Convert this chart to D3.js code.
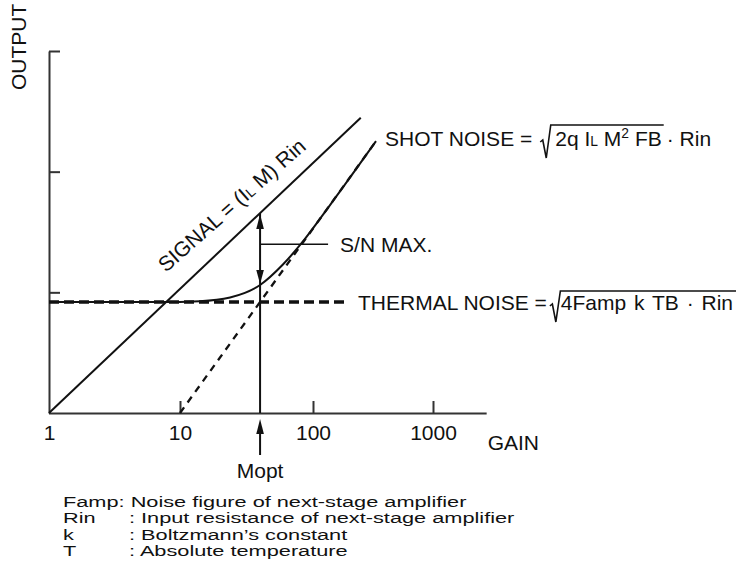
<!DOCTYPE html>
<html>
<head>
<meta charset="utf-8">
<script src="https://cdn.jsdelivr.net/npm/d3@7"></script>
<style>
  html, body { margin: 0; padding: 0; background: #fff; }
  svg { display: block; }
  text { font-family: "Liberation Sans", Arial, Helvetica, sans-serif; fill: #111; }
</style>
</head>
<body>
<svg id="chart" width="739" height="579"></svg>
<script>
// ---- data -------------------------------------------------------------
// gain axis (logarithmic)
const gainTicks = [1, 10, 100, 1000];
const gainTickLabels = ["1", "10", "100", "1000"];
const gainMax = 2800;

// output axis (logarithmic, unlabeled ticks)
const outputTicks = [10, 100, 1000];

// signal = (IL·M)·Rin
const signalGain = [1, 250];
const signalOut  = [1, 280];

// thermal noise floor
const thermalGain = [1, 190];
const thermalOut  = [8.3, 8.3];

// shot noise asymptote
const shotGain = [10, 335];
const shotOut  = [1, 179];

// total noise
const noiseGain = [1, 7, 14.1, 23.8, 40, 59.4, 80, 138.6, 335];
const noiseOut  = [8.3, 8.3, 8.45, 9.07, 11.5, 17.0, 24.7, 52.9, 179];

// optimum gain and S/N marker level
const mopt = 40;
const snLevel = 25;

// symbol legend
const legendKeys  = ["Famp", "Rin", "k", "T"];
const legendTexts = [
  "Noise figure of next-stage amplifier",
  "Input resistance of next-stage amplifier",
  "Boltzmann\u2019s constant",
  "Absolute temperature"
];

// ---- setup ------------------------------------------------------------
const svg = d3.select("#chart");
svg.append("rect").attr("width", 739).attr("height", 579).attr("fill", "#fff");

const x = d3.scaleLog().domain(gainTicks).range([49, 180, 313, 433]);
const y = d3.scaleLog().domain([1, 1000]).range([413, 51]);

const INK = "#111";
const AXIS = "#333";
const LABEL = 21;

// ---- axes -------------------------------------------------------------
const gx = svg.append("g")
  .attr("transform", `translate(0,${y(1)})`)
  .call(d3.axisBottom(x)
    .tickValues(gainTicks)
    .tickFormat((d, i) => gainTickLabels[i])
    .tickSizeInner(-12)
    .tickSizeOuter(0)
    .tickPadding(12));
gx.select(".domain").remove();
gx.selectAll(".tick").filter(d => d === 1).select("line").remove();
gx.selectAll(".tick line").attr("stroke", AXIS).attr("stroke-width", 2);
gx.selectAll(".tick text").attr("font-size", LABEL).attr("fill", INK);
gx.append("line")
  .attr("x1", x(1)).attr("x2", x(gainMax))
  .attr("y1", 0.5).attr("y2", 0.5)
  .attr("stroke", AXIS).attr("stroke-width", 2);

const gy = svg.append("g")
  .attr("transform", `translate(${x(1)},0)`)
  .call(d3.axisLeft(y)
    .tickValues(outputTicks)
    .tickFormat("")
    .tickSizeInner(-11)
    .tickSizeOuter(0));
gy.select(".domain").attr("stroke", AXIS).attr("stroke-width", 2);
gy.selectAll(".tick line").attr("stroke", AXIS).attr("stroke-width", 2);

svg.append("text")
  .attr("transform", `translate(26,90) rotate(-90)`)
  .attr("font-size", LABEL)
  .text("OUTPUT");

svg.append("text")
  .attr("x", x(gainMax) + 1).attr("y", 450)
  .attr("font-size", LABEL)
  .text("GAIN");

// ---- curves -----------------------------------------------------------
const pts = (gs, os) => gs.map((g, i) => [x(g), y(os[i])]);
const straight = d3.line();
const smooth = d3.line().curve(d3.curveMonotoneX);

const signalPts = pts(signalGain, signalOut);
const noisePts = pts(noiseGain, noiseOut);

svg.append("path")
  .attr("d", smooth(noisePts))
  .attr("fill", "none").attr("stroke", INK).attr("stroke-width", 2);

svg.append("path")
  .attr("d", straight(pts(thermalGain, thermalOut)))
  .attr("fill", "none").attr("stroke", INK).attr("stroke-width", 3.5)
  .attr("stroke-dasharray", "10,5");

svg.append("path")
  .attr("d", straight(pts(shotGain, shotOut)))
  .attr("fill", "none").attr("stroke", INK).attr("stroke-width", 2.3)
  .attr("stroke-dasharray", "7,6");

svg.append("path")
  .attr("d", straight(signalPts))
  .attr("fill", "none").attr("stroke", INK).attr("stroke-width", 2);

// ---- optimum-gain marker ---------------------------------------------
function pixelYAt(points, px) {
  for (let i = 0; i < points.length - 1; i++) {
    const [x0, y0] = points[i], [x1, y1] = points[i + 1];
    if (px >= x0 && px <= x1) return y0 + (y1 - y0) * (px - x0) / (x1 - x0);
  }
  return points[points.length - 1][1];
}
const mx = x(mopt);
const sigY = pixelYAt(signalPts, mx);
const noiY = y(noiseOut[noiseGain.indexOf(mopt)]);

function arrowHead(tipX, tipY, dir, len, half) {
  // dir = -1 points up, +1 points down
  return straight([[tipX, tipY], [tipX - half, tipY - dir * len], [tipX + half, tipY - dir * len]]) + "Z";
}

svg.append("line")
  .attr("x1", mx).attr("x2", mx).attr("y1", sigY).attr("y2", y(1))
  .attr("stroke", INK).attr("stroke-width", 2);
svg.append("path").attr("d", arrowHead(mx, sigY + 1, -1, 15, 3.8)).attr("fill", INK);
svg.append("path").attr("d", arrowHead(mx, noiY - 1, 1, 14, 3.8)).attr("fill", INK);

const snY = y(snLevel);
svg.append("line")
  .attr("x1", mx).attr("x2", mx + 68).attr("y1", snY).attr("y2", snY)
  .attr("stroke", INK).attr("stroke-width", 1.6);
svg.append("text")
  .attr("x", mx + 80).attr("y", snY + 7.5)
  .attr("font-size", LABEL)
  .text("S/N MAX.");

// Mopt pointer under the gain axis
svg.append("line")
  .attr("x1", mx).attr("x2", mx).attr("y1", 432).attr("y2", 455)
  .attr("stroke", INK).attr("stroke-width", 2);
svg.append("path").attr("d", arrowHead(mx, 419, -1, 15, 3.8)).attr("fill", INK);
svg.append("text")
  .attr("x", mx).attr("y", 478)
  .attr("text-anchor", "middle")
  .attr("font-size", LABEL)
  .text("Mopt");

// ---- formula labels ---------------------------------------------------
function rich(parent, x0, y0, parts, size, extra) {
  const t = parent.append("text").attr("x", x0).attr("y", y0).attr("font-size", size);
  if (extra) extra(t);
  let shift = 0;
  parts.forEach(p => {
    const s = t.append("tspan").text(p.t);
    const want = p.sup ? -8 : 0;
    if (want !== shift) { s.attr("dy", want - shift); shift = want; }
    if (p.small || p.sup) s.attr("font-size", size * 0.66);
  });
  return t;
}

function radical(parent, x0, base, top, overEnd) {
  const p = d3.path();
  p.moveTo(x0, base - 4);
  p.lineTo(x0 + 2.5, base - 6);
  p.lineTo(x0 + 6, base + 12);
  p.lineTo(x0 + 10.5, top);
  p.lineTo(overEnd, top);
  parent.append("path").attr("d", p.toString())
    .attr("fill", "none").attr("stroke", INK).attr("stroke-width", 1.6)
    .attr("stroke-linejoin", "miter");
}

// SHOT NOISE = sqrt(2q IL M^2 F B) · Rin
{
  const g = svg.append("g");
  const base = 146;
  const a = rich(g, 385, base, [{ t: "SHOT NOISE =" }], LABEL);
  const ax = 385 + a.node().getComputedTextLength() + 8;
  const rx = ax + 15;
  const b = rich(g, rx, base, [
    { t: "2q I" }, { t: "L", small: true }, { t: " M" }, { t: "2", sup: true }, { t: " FB" }
  ], LABEL);
  const bEnd = rx + b.node().getComputedTextLength() + 2;
  radical(g, ax, base, base - 21, bEnd);
  rich(g, bEnd + 3, base, [{ t: "\u00B7 Rin" }], LABEL);
}

// THERMAL NOISE = sqrt(4 Famp k T B · Rin)
{
  const g = svg.append("g");
  const base = 310;
  const a = rich(g, 358, base, [{ t: "THERMAL NOISE =" }], LABEL);
  const ax = 358 + a.node().getComputedTextLength() + 3;
  const rx = ax + 11;
  const b = rich(g, rx, base, [{ t: "4Famp k TB \u00B7 Rin" }], LABEL,
    t => t.attr("word-spacing", 2));
  const bEnd = rx + b.node().getComputedTextLength() + 3;
  radical(g, ax, base, base - 19, bEnd);
}

// SIGNAL = (IL M) Rin, written along the signal line
{
  const [p0, p1] = signalPts;
  const ang = Math.atan2(p1[1] - p0[1], p1[0] - p0[0]) * 180 / Math.PI + 2;
  rich(svg, 0, 0, [
    { t: "SIGNAL = (I" }, { t: "L", small: true }, { t: " M) Rin" }
  ], LABEL, t => t.attr("transform", `translate(166,273) rotate(${ang})`));
}

// ---- symbol legend ----------------------------------------------------
const LEG = 14.5, LEG_SX = 1.5, LEG_STEP = 16.3;
legendKeys.forEach((k, i) => {
  const base = 507 + i * LEG_STEP;
  if (i === 0) {
    svg.append("text")
      .attr("transform", `translate(63,${base}) scale(${LEG_SX},1)`)
      .attr("font-size", LEG)
      .text(`${k}: ${legendTexts[i]}`);
  } else {
    svg.append("text")
      .attr("transform", `translate(63,${base}) scale(${LEG_SX},1)`)
      .attr("font-size", LEG)
      .text(k);
    svg.append("text")
      .attr("transform", `translate(129,${base}) scale(${LEG_SX},1)`)
      .attr("font-size", LEG)
      .text(`: ${legendTexts[i]}`);
  }
});
</script>
</body>
</html>
